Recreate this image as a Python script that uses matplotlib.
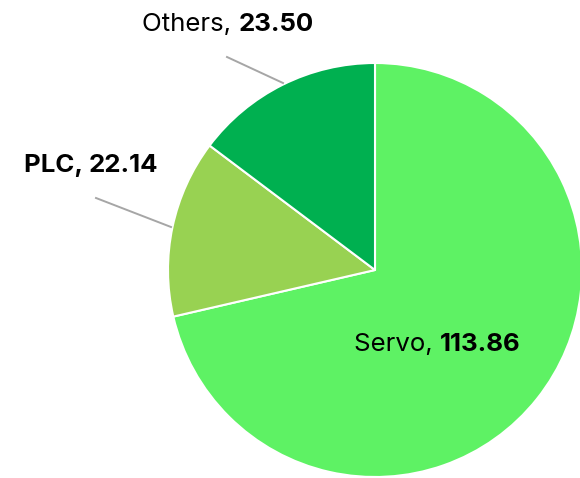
import matplotlib
matplotlib.use("Agg")
import matplotlib.pyplot as plt

labels = ["Servo", "PLC", "Others"]
values = [113.86, 22.14, 23.50]
colors = ["#5EF264", "#98D252", "#00B050"]

W, H = 580, 478
plt.rcParams["font.family"] = ["Inter", "DejaVu Sans"]

fig = plt.figure(figsize=(W / 100, H / 100), dpi=100)
ax = fig.add_axes([0, 0, 1, 1])
ax.pie(values, colors=colors, startangle=90, counterclock=False,
       center=(375, H - 270), radius=207, frame=True,
       wedgeprops=dict(edgecolor="white", linewidth=1.5))
ax.set_xlim(0, W)
ax.set_ylim(0, H)
ax.set_aspect("equal")
ax.axis("off")

fs = 18.6
line_kw = dict(color="#A6A6A6", lw=1.4)


def label(x, y, name, val, name_bold=False):
    t = ax.text(x, H - y, f"{name}, ", fontsize=fs, va="baseline", ha="left",
                fontweight="bold" if name_bold else "normal")
    ax.annotate(f"{val:.2f}", xy=(1, 0), xycoords=t, va="bottom", ha="left",
                fontsize=fs, fontweight="bold")


# Servo, PLC, Others
label(354, 351, labels[0], values[0])
label(24, 172, labels[1], values[1], name_bold=True)
label(142, 31, labels[2], values[2])

ax.plot([96, 171], [H - 198, H - 227], **line_kw)
ax.plot([227, 283], [H - 57, H - 83], **line_kw)

fig.savefig("out.png", dpi=100)
